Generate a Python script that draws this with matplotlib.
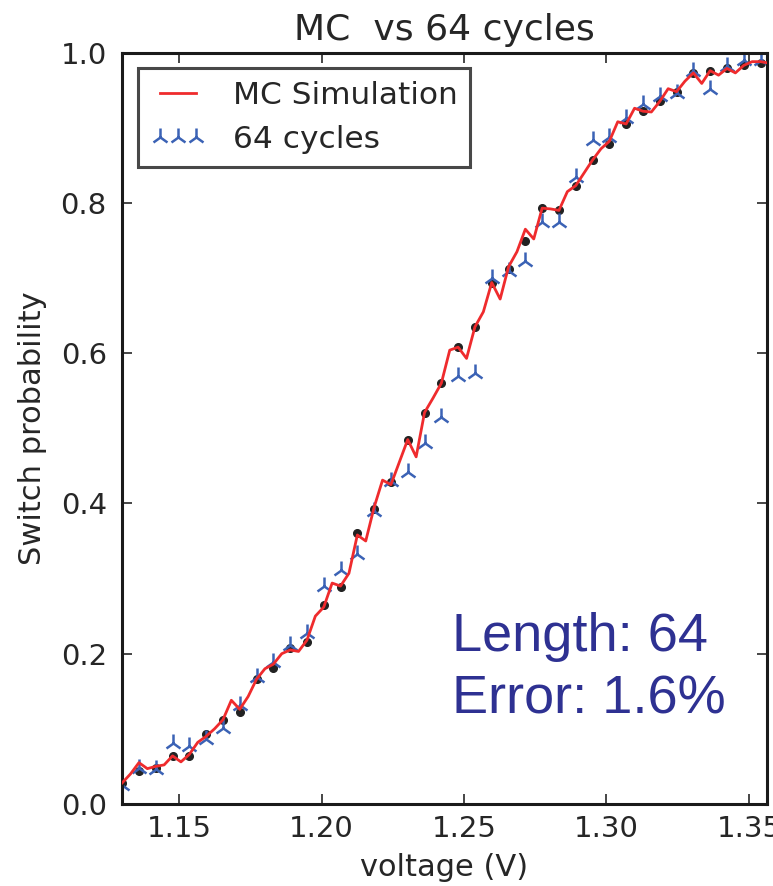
import numpy as np
import matplotlib
matplotlib.use("Agg")
import matplotlib.pyplot as plt

# black dots (MC reference points) and the 64-cycle run, same voltages
volt = np.linspace(1.13, 1.36, 40)
mc_pts = [0.028, 0.044, 0.048, 0.064, 0.064, 0.093, 0.112, 0.122, 0.166, 0.181,
          0.208, 0.215, 0.265, 0.289, 0.360, 0.393, 0.428, 0.485, 0.521, 0.560,
          0.608, 0.635, 0.694, 0.712, 0.749, 0.793, 0.790, 0.823, 0.857, 0.879,
          0.905, 0.922, 0.935, 0.948, 0.973, 0.976, 0.979, 0.983, 0.986, 0.990]
cyc64 = [0.025, 0.048, 0.046, 0.081, 0.077, 0.087, 0.101, 0.132, 0.169, 0.189,
         0.212, 0.228, 0.290, 0.311, 0.333, 0.390, 0.430, 0.442, 0.480, 0.515,
         0.570, 0.574, 0.700, 0.710, 0.723, 0.775, 0.775, 0.835, 0.884, 0.888,
         0.913, 0.932, 0.942, 0.946, 0.976, 0.951, 0.982, 0.990, 0.990, 0.992]

# MC simulation curve, twice the resolution
volt_mc = np.linspace(1.13, 1.36, 79)
mc_sim = [0.028, 0.040, 0.055, 0.047, 0.050, 0.052, 0.064, 0.056, 0.066, 0.082,
          0.090, 0.100, 0.112, 0.138, 0.126, 0.143, 0.166, 0.180, 0.186, 0.200,
          0.205, 0.203, 0.218, 0.250, 0.262, 0.294, 0.290, 0.307, 0.358, 0.350,
          0.395, 0.431, 0.425, 0.455, 0.485, 0.462, 0.521, 0.540, 0.560, 0.604,
          0.608, 0.593, 0.635, 0.655, 0.694, 0.672, 0.715, 0.735, 0.765, 0.752,
          0.793, 0.792, 0.790, 0.815, 0.823, 0.840, 0.857, 0.872, 0.882, 0.908,
          0.905, 0.926, 0.922, 0.921, 0.935, 0.952, 0.948, 0.962, 0.973, 0.959,
          0.976, 0.970, 0.979, 0.973, 0.983, 0.988, 0.988, 0.986, 0.990]

xticks = [1.15, 1.20, 1.25, 1.30, 1.35]
yticks = [0.0, 0.2, 0.4, 0.6, 0.8, 1.0]

dark = "#262626"
plt.rcParams["font.family"] = ["DejaVu Sans"]

fig = plt.figure(figsize=(7.73, 8.86), dpi=100)
ax = fig.add_axes([0.158, 0.0926, 0.834, 0.848])

ax.plot(volt, mc_pts, "o", color="#222222", ms=5.5, zorder=2)
cyc_line, = ax.plot(volt, cyc64, "2", color="#3b62b5", ms=13, mew=1.8,
                    linestyle="none", zorder=2.5, label="64 cycles")
mc_line, = ax.plot(volt_mc, mc_sim, color="#ef2b2d", lw=2.0, zorder=3,
                   label="MC Simulation")

ax.set_xlim(1.13, 1.3563)
ax.set_ylim(0.0, 1.0)
ax.set_xticks(xticks)
ax.set_xticklabels(["%.2f" % t for t in xticks])
ax.set_yticks(yticks)
ax.set_yticklabels(["%.1f" % t for t in yticks])
ax.tick_params(direction="in", length=7, width=1.2, top=True, right=True,
               labelsize=21, colors=dark)
ax.tick_params(axis="y", pad=11)
ax.tick_params(axis="x", pad=8)
for sp in ax.spines.values():
    sp.set_linewidth(2.2)
    sp.set_color("#1a1a1a")

ax.set_title("MC  vs 64 cycles", fontsize=26, color=dark, pad=9)
ax.set_xlabel("voltage (V)", fontsize=22, color=dark, labelpad=7)
ax.set_ylabel("Switch probability", fontsize=22, color=dark, labelpad=10)

leg = ax.legend(handles=[mc_line, cyc_line], loc="upper left", fontsize=22.5,
                numpoints=3, handlelength=1.75, handletextpad=0.9,
                borderpad=0.4, labelspacing=0.5, fancybox=False,
                borderaxespad=0.5)
leg.get_frame().set_edgecolor("#1a1a1a")
leg.get_frame().set_linewidth(2.2)
for t in leg.get_texts():
    t.set_color(dark)

ax.text(0.512, 0.2036, "Length: 64", transform=ax.transAxes, fontsize=39,
        family="Liberation Sans", color="#2e3192", va="baseline")
ax.text(0.512, 0.12, "Error: 1.6%", transform=ax.transAxes, fontsize=39,
        family="Liberation Sans", color="#2e3192", va="baseline")

fig.savefig("out.png", dpi=100)
